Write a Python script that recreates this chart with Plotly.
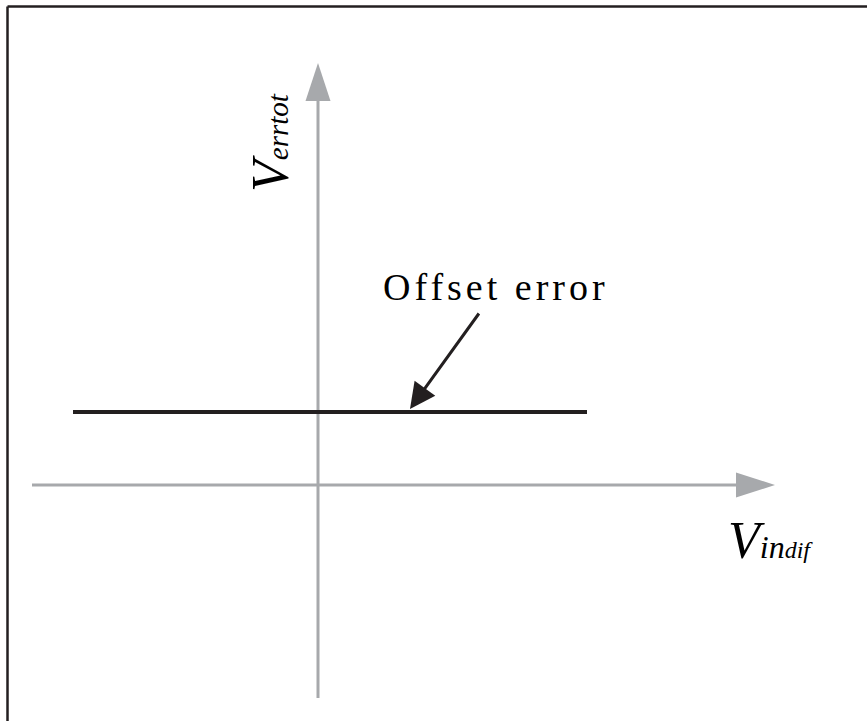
import plotly.graph_objects as go

# Conceptual data (origin at the axes crossing, 1 unit = 100 px)
offset_x = [-2.45, 2.69]
offset_y = [0.73, 0.73]
axis_x_extent = [-2.86, 4.18]   # horizontal axis line (before arrow head)
axis_y_extent = [-2.13, 3.84]   # vertical axis line (before arrow head)
arrow_head_x = 0.92
arrow_head_y = 0.76
arrow_tail_x = 1.62
arrow_tail_y = 1.73
label_text = "Offset error"
x_label = ('<i>V</i><span style="font-size:32px"><i>in</i></span>'
           '<span style="font-size:24px"><i>dif</i></span>')
y_label = '<i>V</i><span style="font-size:29px"><i>errtot</i></span>'

AXIS_COLOR = "#a7a9ac"
INK = "#231f20"
FONT = "Liberation Serif"

fig = go.Figure()

# horizontal axis
fig.add_trace(go.Scatter(x=axis_x_extent, y=[0, 0], mode="lines",
                         line=dict(color=AXIS_COLOR, width=3), hoverinfo="skip"))
# vertical axis
fig.add_trace(go.Scatter(x=[0, 0], y=axis_y_extent, mode="lines",
                         line=dict(color=AXIS_COLOR, width=3), hoverinfo="skip"))
# offset error line
fig.add_trace(go.Scatter(x=offset_x, y=offset_y, mode="lines",
                         line=dict(color=INK, width=4), hoverinfo="skip"))

shapes = [
    # arrow heads for axes
    dict(type="path", xref="x", yref="y",
         path="M 4.57 0 L 4.18 0.125 L 4.18 -0.125 Z",
         fillcolor=AXIS_COLOR, line=dict(width=0)),
    dict(type="path", xref="x", yref="y",
         path="M 0 4.22 L -0.125 3.84 L 0.125 3.84 Z",
         fillcolor=AXIS_COLOR, line=dict(width=0)),
    # frame (top and left)
    dict(type="line", xref="paper", yref="paper", x0=7.5/867, x1=1, y0=1-6.5/721, y1=1-6.5/721,
         line=dict(color=INK, width=2.5)),
    dict(type="line", xref="paper", yref="paper", x0=7.5/867, x1=7.5/867, y0=0, y1=1-6.5/721,
         line=dict(color=INK, width=2.5)),
]

annotations = [
    dict(x=arrow_head_x, y=arrow_head_y, ax=arrow_tail_x, ay=arrow_tail_y,
         xref="x", yref="y", axref="x", ayref="y", text="", showarrow=True,
         arrowhead=2, arrowsize=1.7, arrowwidth=3, arrowcolor=INK),
    dict(x=1.78, y=1.98, xref="x", yref="y", showarrow=False,
         text='<span style="letter-spacing:4px">' + label_text + '</span>',
         font=dict(family=FONT, size=38, color="#000000"),
         xanchor="center", yanchor="middle"),
    dict(x=4.52, y=-0.55, xref="x", yref="y", showarrow=False, text=x_label,
         font=dict(family=FONT, size=52, color="#000000"),
         xanchor="center", yanchor="middle"),
    dict(x=-0.48, y=3.42, xref="x", yref="y", showarrow=False, text=y_label,
         textangle=-90,
         font=dict(family=FONT, size=52, color="#000000"),
         xanchor="center", yanchor="middle"),
]

fig.update_layout(
    width=867, height=721,
    margin=dict(l=0, r=0, t=0, b=0),
    paper_bgcolor="white", plot_bgcolor="white",
    showlegend=False,
    xaxis=dict(range=[-3.18, 5.49], visible=False, fixedrange=True),
    yaxis=dict(range=[-2.36, 4.85], visible=False, fixedrange=True),
    shapes=shapes,
    annotations=annotations,
)

fig.write_html("out.html", config={"displayModeBar": False},
               post_script="document.body.style.margin='0px';")
